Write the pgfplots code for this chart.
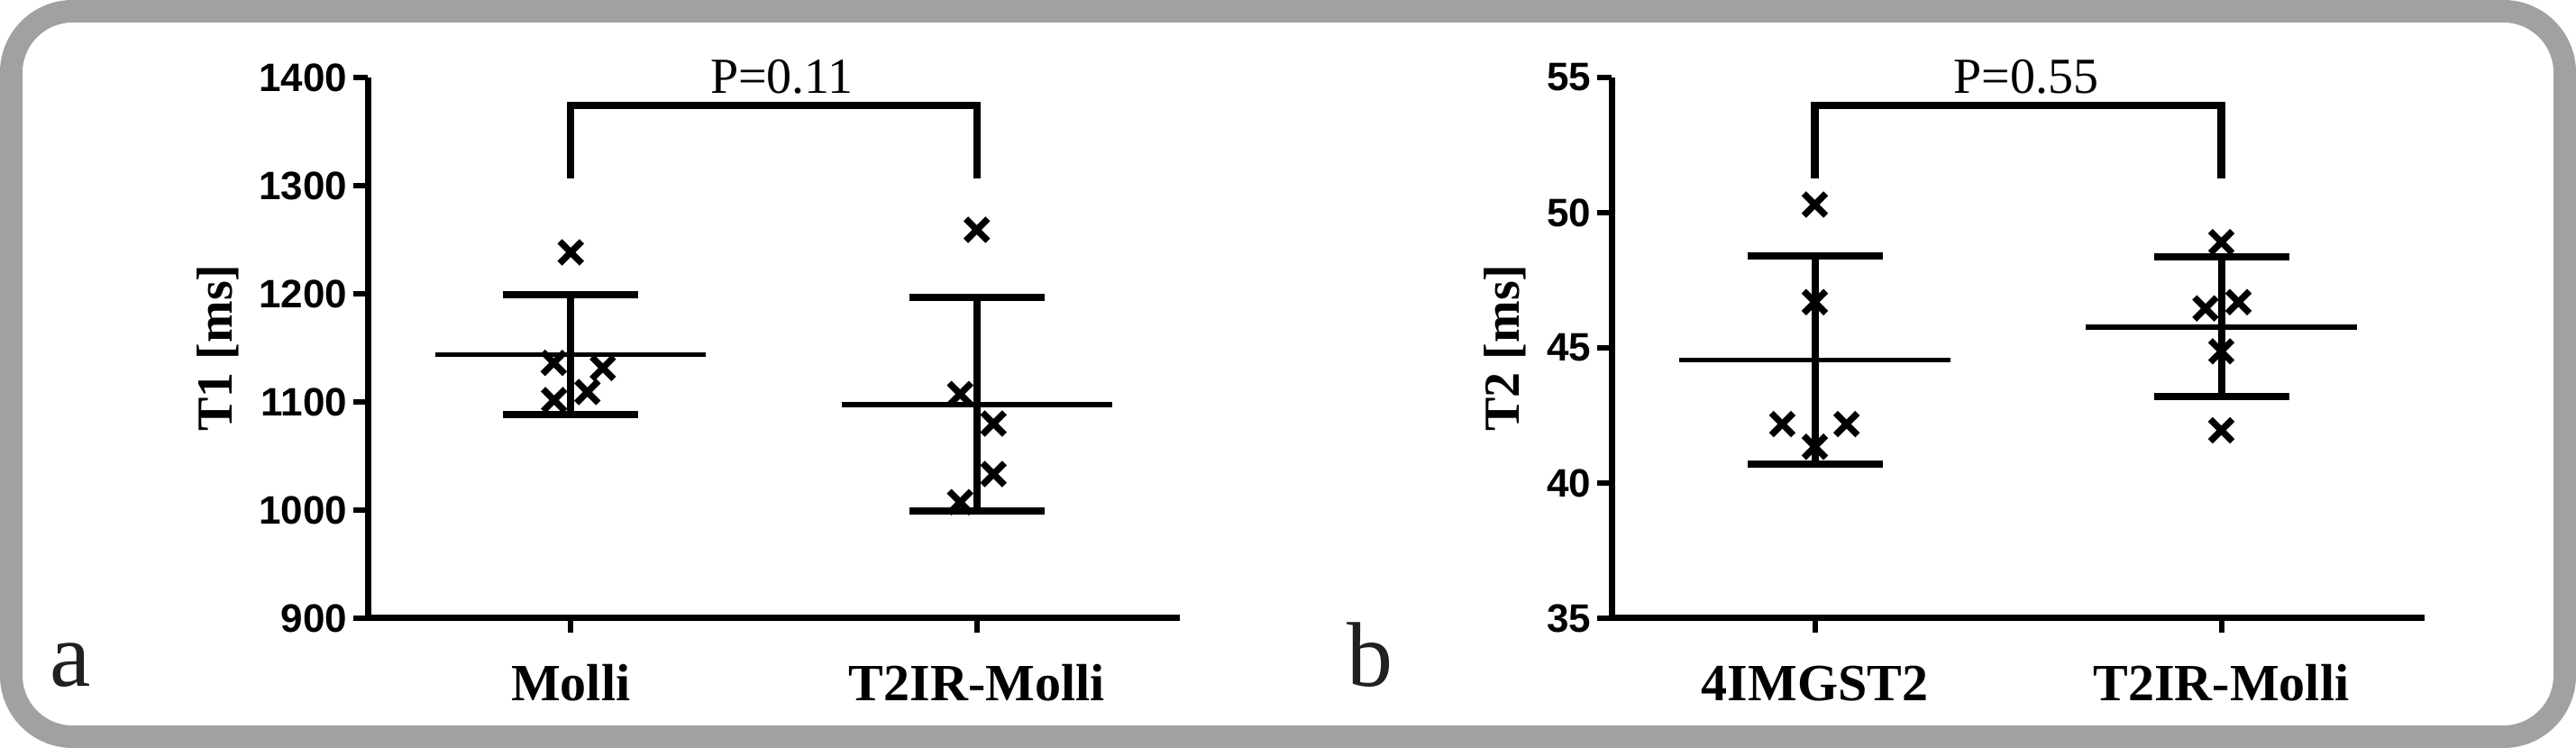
\documentclass[border=0pt]{standalone}
\usepackage{fontspec}
\setmainfont{Liberation Serif}
\newfontfamily\ticksans{Liberation Sans}
\usepackage{pgfplots}
\pgfplotsset{compat=1.18}
\definecolor{framegray}{RGB}{160,162,161}
\definecolor{panelink}{RGB}{35,31,32}

\pgfplotsset{
  panel/.style={
    scale only axis, height=150pt,
    xmin=-0.5, xmax=1.5, xtick={0,1},
    axis x line*=bottom, axis y line*=left,
    axis line style={line width=1.75pt, black},
    tick align=outside,
    major tick length=4pt,
    every tick/.style={black, line width=1.5pt},
    clip=false,
    /pgf/number format/.cd, 1000 sep={}, assume math mode=true, /pgfplots/.cd,
    yticklabel style={font=\ticksans\bfseries\fontsize{11}{13}\selectfont, inner sep=1.5pt},
    xticklabel style={font=\bfseries\fontsize{14.5}{16}\selectfont, anchor=base, yshift=-19pt},
    ylabel style={font=\bfseries\fontsize{14}{16}\selectfont, anchor=center},
  },
  pts/.style={only marks, mark=x, mark size=4.3pt, mark options={line width=1.8pt, black}},
  sd/.style={draw=none, mark=none, forget plot,
    error bars/.cd, y dir=both, y explicit,
    error bar style={draw=black, line width=2pt, solid},
    error mark=|,
    error mark options={draw=black, mark size=18.75pt, line width=2pt}},
  meanline/.style={black, line width=1.35pt, mark=none},
  bracket/.style={black, line width=2.1pt, line join=miter, mark=none},
}

\begin{document}
\begin{tikzpicture}
\useasboundingbox (0,0) rectangle (714.5pt,207.5pt);
\fill[white] (0,0) rectangle (714.5pt,207.5pt);
\draw[framegray, line width=6.25pt, rounded corners=17pt] (3.125pt,3.125pt) rectangle (711.375pt,204.375pt);

% ---------- panel a ----------
\begin{axis}[panel, at={(102pt,36pt)}, anchor=south west, width=225.25pt,
  ymin=900, ymax=1400, ytick={900,1000,...,1400},
  xticklabels={Molli, T2IR-Molli},
  ylabel={T1 [ms]},
  ylabel style={at={(axis description cs:-0.184,0.5)}}]
  \addplot[pts] coordinates {(0,1238.3) (-0.042,1136.1) (0.079,1131.4) (0.041,1109.2) (-0.041,1101.7)};
  \addplot[pts] coordinates {(1,1259.2) (0.959,1107.3) (1.041,1080) (1.041,1033.3) (0.959,1007.3)};
  \addplot[sd] coordinates {(0,1143.6) +- (0,55.3) (1,1097.65) +- (0,98.75)};
  \addplot[meanline] coordinates {(-0.333,1143.6) (0.333,1143.6)};
  \addplot[meanline] coordinates {(0.667,1097.65) (1.333,1097.65)};
  \addplot[bracket] coordinates {(0,1306.9) (0,1374.3) (1,1374.3) (1,1306.9)};
  \node[anchor=base, font=\fontsize{14}{16}\selectfont] at (axis cs:0.52,1385) {P=0.11};
\end{axis}

% ---------- panel b ----------
\begin{axis}[panel, at={(447pt,36pt)}, anchor=south west, width=225.5pt,
  ymin=35, ymax=55, ytick={35,40,...,55},
  xticklabels={4IMGST2, T2IR-Molli},
  ylabel={T2 [ms]},
  ylabel style={at={(axis description cs:-0.131,0.5)}}]
  \addplot[pts] coordinates {(0,50.30) (0,46.69) (-0.08,42.18) (0.078,42.18) (0,41.34)};
  \addplot[pts] coordinates {(1,48.91) (0.961,46.46) (1.042,46.69) (1,44.87) (1,41.95)};
  \addplot[sd] coordinates {(0,44.56) +- (0,3.85) (1,45.775) +- (0,2.575)};
  \addplot[meanline] coordinates {(-0.333,44.55) (0.333,44.55)};
  \addplot[meanline] coordinates {(0.667,45.76) (1.333,45.76)};
  \addplot[bracket] coordinates {(0,51.27) (0,53.97) (1,53.97) (1,51.27)};
  \node[anchor=base, font=\fontsize{14}{16}\selectfont] at (axis cs:0.52,54.4) {P=0.55};
\end{axis}

\node[anchor=base, text=panelink, font=\fontsize{25.5}{28}\selectfont, inner sep=0pt] at (19.5pt,17pt) {a};
\node[anchor=base, text=panelink, font=\fontsize{25.5}{28}\selectfont, inner sep=0pt] at (380pt,17pt) {b};
\end{tikzpicture}
\end{document}
